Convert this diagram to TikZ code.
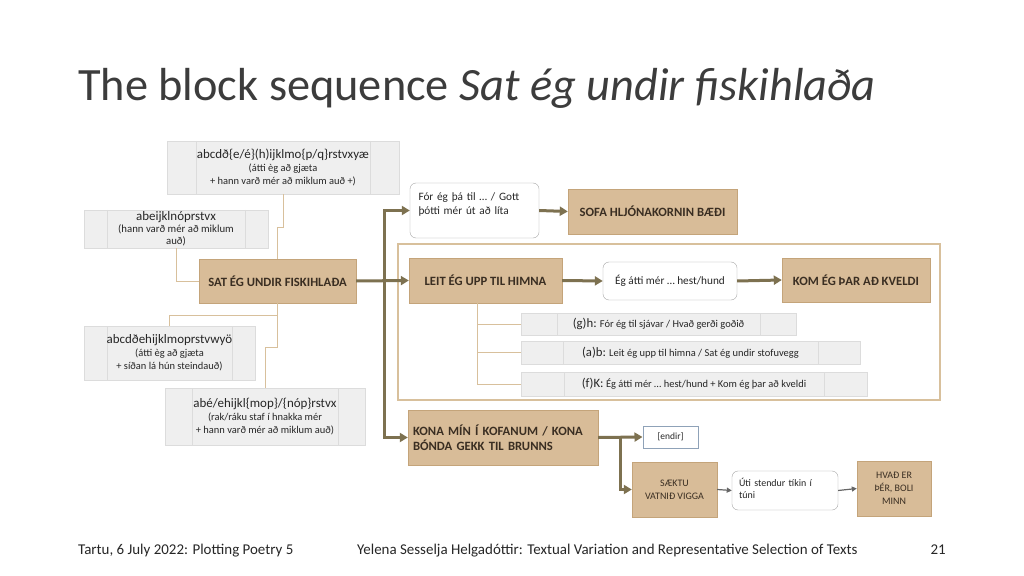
\documentclass[tikz,border=0pt]{standalone}
\usepackage{fontspec}
\setmainfont{Carlito}
\usetikzlibrary{arrows.meta}
\definecolor{ink}{HTML}{262626}
\definecolor{tan}{HTML}{D8BC98}
\definecolor{tanedge}{HTML}{C4A47A}
\definecolor{tanline}{HTML}{D8C09C}
\definecolor{tanink}{HTML}{3A2E22}
\definecolor{olive}{HTML}{7D7150}
\definecolor{cell}{HTML}{EFEFEF}
\definecolor{celledge}{HTML}{DCDCDC}
\definecolor{slate}{HTML}{8FA2B8}
\newcommand{\fsz}[2]{\fontsize{#1}{#2}\selectfont}

\tikzset{
  block/.style={draw=tanedge, fill=tan, text=tanink, font=\bfseries\fsz{12.7}{15}, align=center, inner sep=4bp},
  plainblock/.style={block, font=\fsz{10}{13}},
  note/.style={draw=black!35, fill=white, rounded corners=6bp, text=ink, font=\fsz{11.3}{14}, align=left, inner sep=4bp},
  gbox/.style={draw=celledge, fill=cell, text=ink, font=\fsz{10.5}{13}, align=center, inner sep=1bp,
    path picture={
      \draw[celledge] ([xshift=#1]path picture bounding box.north west) -- ([xshift=#1]path picture bounding box.south west);
      \draw[celledge] ([xshift=-#1]path picture bounding box.north east) -- ([xshift=-#1]path picture bounding box.south east);}},
  twig/.style={draw=tanline, line width=1bp},
  flow/.style={draw=olive, line width=3bp, -{Triangle[length=8bp,width=9bp]}},
  smallflow/.style={draw=black!60, line width=1.2bp, -{Triangle[length=5bp,width=5bp]}},
}

\begin{document}
\begin{tikzpicture}[x=1bp, y=-1bp]
  \useasboundingbox (0,0) rectangle (1024,576);
  \fill[white] (0,0) rectangle (1024,576);

  % title
  \node[anchor=base west, inner sep=0, text=ink!90, font=\fsz{46.5}{54}] (title) at (78,101)
    {The block sequence \textit{Sat ég undir fiskihlaða}};

  % left: witnesses around the main block
  \node[gbox=29bp, minimum width=232bp, minimum height=53bp] (wa) at (283,167.5)
    {{\fsz{13}{14}abcdð\{e/é\}(h)ijklmo\{p/q\}rstvxyæ}\\(átti èg að gjæta\\+ hann varð mér að miklum auð +)};
  \node[gbox=23bp, minimum width=184bp, minimum height=38bp, font=\fsz{10.8}{12}] (wb) at (176,229)
    {{\fsz{13}{14}abeijklnóprstvx}\\(hann varð mér að miklum\\auð)};
  \node[block, minimum width=157bp, minimum height=44bp] (sat) at (277.5,281) {SAT ÉG UNDIR FISKIHLAÐA};
  \node[gbox=23bp, minimum width=171bp, minimum height=54bp] (wc) at (169.5,353)
    {{\fsz{13}{14}abcdðehijklmoprstvwyö}\\(átti èg að gjæta\\+ síðan lá hún steindauð)};
  \node[gbox=27bp, minimum width=200bp, minimum height=57bp] (wd) at (265,416.5)
    {{\fsz{13}{14}abé/ehijkl\{mop\}/\{nóp\}rstvx}\\(rak/ráku staf í hnakka mér\\+ hann varð mér að miklum auð)};

  \draw[twig] (wa.south) -- ++(0,33) -| (sat.north);
  \draw[twig] (wb.south) |- (sat.west);
  \draw[twig] (sat.south) -- ++(0,12) -| (wc.north);
  \draw[twig] (sat.south) -- ++(0,44) -| (wd.north);

  % right: continuations
  \node[note, text width=112bp, minimum width=129bp, minimum height=55bp, inner xsep=8.5bp,
        text height=10bp, text depth=29bp, inner ysep=8bp] (fora) at (474.5,210.5)
    {Fór ég þá til … / Gott\\þótti mér út að líta};
  \node[block, minimum width=169bp, minimum height=45bp] (sofa) at (652.5,211.5) {SOFA HLJÓNAKORNIN BÆÐI};

  \draw[tanline, line width=1.3bp] (398,244) rectangle (940,400);
  \node[block, minimum width=153bp, minimum height=45bp] (leit) at (485.5,280.5) {LEIT ÉG UPP TIL HIMNA};
  \node[note, align=center, minimum width=134bp, minimum height=38bp] (atti) at (670,281) {Ég átti mér … hest/hund};
  \node[block, minimum width=148bp, minimum height=44bp] (kom) at (856,280) {KOM ÉG ÞAR AÐ KVELDI};
  \node[gbox=36bp, minimum width=275bp, minimum height=22bp, font=\fsz{10.5}{12}] (gh) at (658.5,324)
    {{\fsz{12.8}{13}(g)h:} Fór ég til sjávar / Hvað gerði goðið};
  \node[gbox=42bp, minimum width=339bp, minimum height=23bp, font=\fsz{10.5}{12}] (ab) at (690.5,352.5)
    {{\fsz{12.8}{13}(a)b:} Leit ég upp til himna / Sat ég undir stofuvegg};
  \node[gbox=43bp, minimum width=346bp, minimum height=24bp, font=\fsz{10.5}{12}] (fk) at (694,384)
    {{\fsz{12.8}{13}(f)K:} Ég átti mér … hest/hund + Kom ég þar að kveldi};

  \node[block, align=left, text width=180bp, minimum width=190bp, minimum height=55bp] (kona) at (503,437.5)
    {KONA MÍN Í KOFANUM / KONA\\BÓNDA GEKK TIL BRUNNS};
  \node[draw=slate, line width=1bp, fill=white, text=ink, font=\fsz{9.5}{12}, minimum width=55bp, minimum height=22bp] (endir) at (670.5,437) {[endir]};
  \node[plainblock, minimum width=85bp, minimum height=55bp] (saektu) at (674.5,489.5) {SÆKTU\\VATNIÐ VIGGA};
  \node[note, font=\fsz{10}{13}, text width=92bp, minimum width=106bp, minimum height=39bp, inner xsep=7bp,
        text height=9bp, text depth=18bp, inner ysep=6bp] (uti) at (785,490.5)
    {Úti stendur tíkin í\\túni};
  \node[plainblock, minimum width=74bp, minimum height=55bp] (hvad) at (894,488.5) {HVAÐ ER\\ÞÉR, BOLI\\MINN};

  % thick flow
  \coordinate (fork) at (384,281);
  \draw[flow] (sat.east) -- (leit.west);
  \draw[flow] (fork) |- (fora.west);
  \draw[flow] (fork) |- (kona.west);
  \draw[flow] (fora.east) -- (sofa.west);
  \draw[flow] (leit.east) -- (atti.west);
  \draw[flow] (atti.east) -- (kom.west);
  \coordinate (kfork) at (620,437.5);
  \draw[flow] (kona.east) -- (endir.west);
  \draw[flow] (kfork) |- (saektu.west);
  \draw[smallflow] (saektu.east) -- (uti.west);
  \draw[smallflow] (uti.east) -- (hvad.west);

  % variants under LEIT
  \coordinate (lroot) at ([xshift=-8.5bp]leit.south);
  \draw[twig] (lroot) |- (gh.west);
  \draw[twig] (lroot) |- (ab.west);
  \draw[twig] (lroot) |- (fk.west);

  % footer
  \node[anchor=base west, inner sep=0, text=ink, font=\fsz{15}{17}] (place) at (78,554) {Tartu, 6 July 2022: Plotting Poetry 5};
  \node[anchor=base west, inner sep=0, text=ink, font=\fsz{15}{17}] (author) at (357,554)
    {Yelena Sesselja Helgadóttir: Textual Variation and Representative Selection of Texts};
  \node[anchor=base east, inner sep=0, text=ink, font=\fsz{15}{17}] (page) at (946,554) {21};
\end{tikzpicture}
\end{document}
